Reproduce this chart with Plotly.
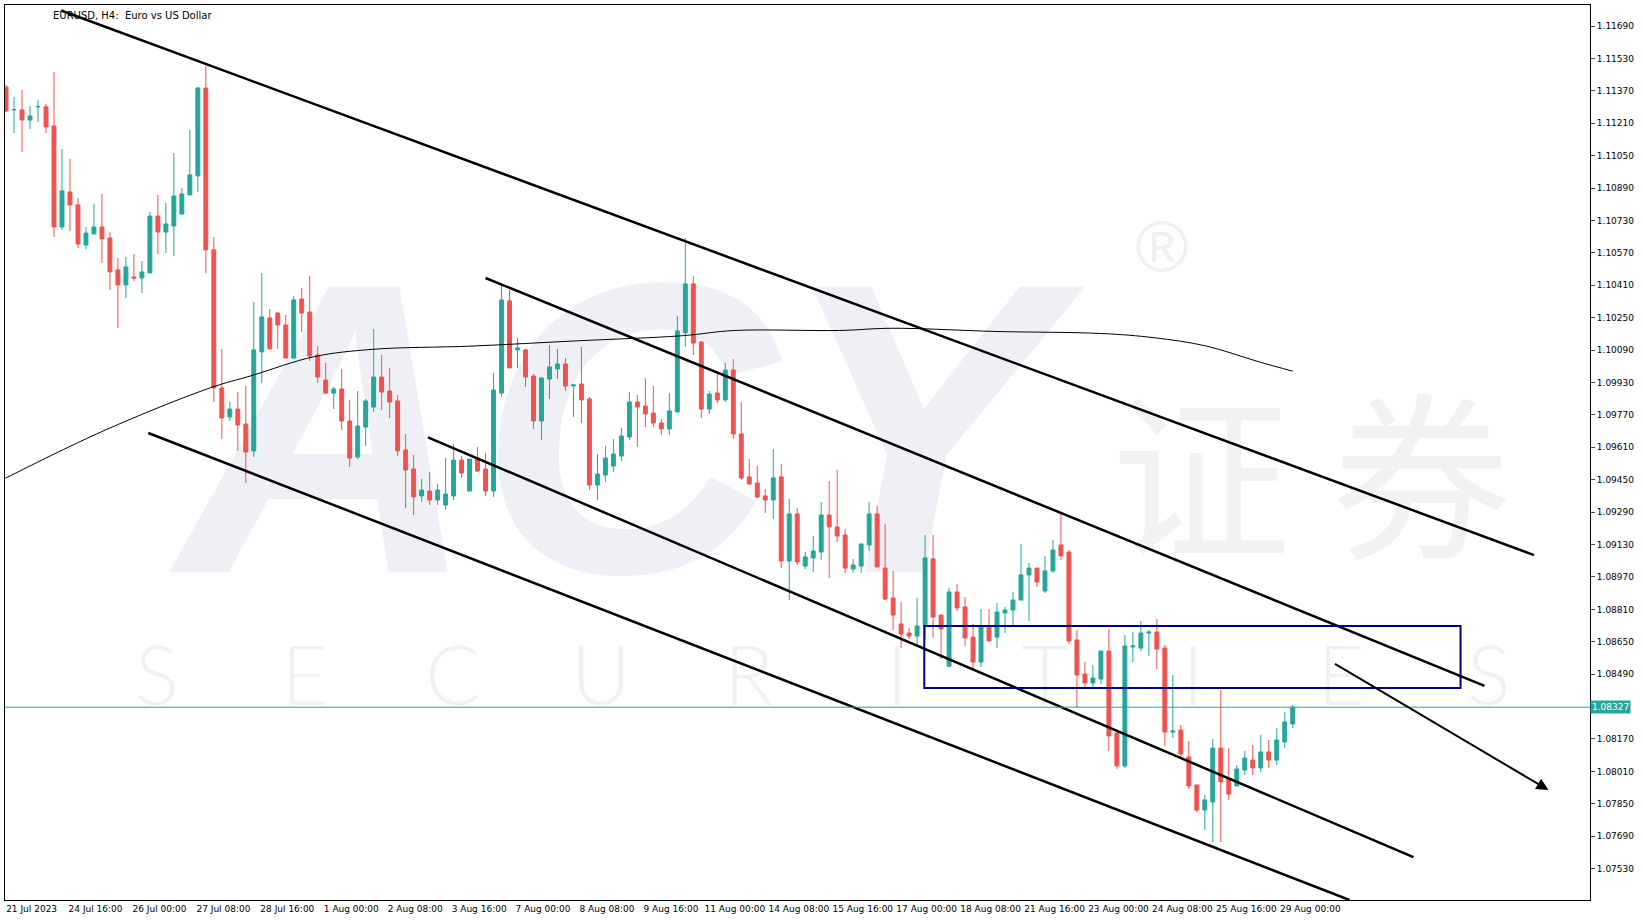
import base64
import numpy as np
import plotly.graph_objects as go

# EURUSD H4 candles, 21 Jul 2023 -> 29 Aug 2023
opens = [1.11389, 1.11276, 1.11276, 1.11226, 1.11291, 1.11291, 1.11197, 1.10698, 1.10871, 1.10807,
         1.10609, 1.10664, 1.10698, 1.10644, 1.10486, 1.10412, 1.10451, 1.10446, 1.10471, 1.10752,
         1.10673, 1.10703, 1.10762, 1.10856, 1.10950, 1.11384, 1.10585, 1.09903, 1.09760, 1.09799,
         1.09725, 1.09592, 1.10081, 1.10249, 1.10273, 1.10214, 1.10051, 1.10342, 1.10278, 1.10066,
         1.09942, 1.09878, 1.09898, 1.09740, 1.09562, 1.09710, 1.09809, 1.09957, 1.09888, 1.09839,
         1.09597, 1.09503, 1.09370, 1.09394, 1.09350, 1.09325, 1.09370, 1.09547, 1.09394, 1.09557,
         1.09503, 1.09394, 1.09878, 1.10333, 1.10091, 1.10091, 1.09962, 1.09740, 1.09947, 1.09997,
         1.10022, 1.09913, 1.09923, 1.09849, 1.09424, 1.09473, 1.09518, 1.09567, 1.09661, 1.09834,
         1.09814, 1.09779, 1.09730, 1.09701, 1.09785, 1.10175, 1.10417, 1.10130, 1.09799, 1.09878,
         1.09844, 1.09992, 1.09676, 1.09464, 1.09434, 1.09370, 1.09350, 1.09464, 1.09049, 1.09281,
         1.09024, 1.09064, 1.09093, 1.09276, 1.09217, 1.09177, 1.09009, 1.09024, 1.09128, 1.09281,
         1.09014, 1.08866, 1.08738, 1.08693, 1.08678, 1.08728, 1.09059, 1.08782, 1.08529, 1.08896,
         1.08822, 1.08673, 1.08550, 1.08723, 1.08673, 1.08792, 1.08807, 1.08856, 1.08980, 1.09014,
         1.08901, 1.09000, 1.09128, 1.09093, 1.08659, 1.08491, 1.08446, 1.08466, 1.08604, 1.08200,
         1.08037, 1.08624, 1.08619, 1.08693, 1.08698, 1.08619, 1.08204, 1.08214, 1.08081, 1.07943,
         1.07819, 1.07859, 1.08125, 1.07972, 1.07938, 1.08017, 1.08066, 1.08027, 1.08106, 1.08066,
         1.08155, 1.08244]
highs = [1.11399, 1.11340, 1.11375, 1.11296, 1.11325, 1.11305, 1.11463, 1.11083, 1.11034, 1.10841,
         1.10698, 1.10812, 1.10861, 1.10673, 1.10545, 1.10550, 1.10565, 1.10530, 1.10772, 1.10856,
         1.10817, 1.11063, 1.10891, 1.11177, 1.11389, 1.11493, 1.10649, 1.10096, 1.09834, 1.09883,
         1.09913, 1.10328, 1.10471, 1.10293, 1.10278, 1.10264, 1.10357, 1.10397, 1.10456, 1.10110,
         1.10027, 1.09908, 1.09997, 1.09844, 1.09888, 1.09849, 1.10194, 1.10066, 1.10002, 1.09868,
         1.09676, 1.09572, 1.09454, 1.09488, 1.09429, 1.09557, 1.09626, 1.09567, 1.09552, 1.09612,
         1.09582, 1.09977, 1.10412, 1.10387, 1.10150, 1.10096, 1.09972, 1.09957, 1.10115, 1.10096,
         1.10051, 1.09923, 1.10106, 1.09859, 1.09577, 1.09617, 1.09651, 1.09706, 1.09883, 1.09868,
         1.09952, 1.09913, 1.09750, 1.09878, 1.10259, 1.10644, 1.10456, 1.10135, 1.09888, 1.09977,
         1.10027, 1.10046, 1.09834, 1.09552, 1.09518, 1.09404, 1.09602, 1.09528, 1.09355, 1.09311,
         1.09093, 1.09172, 1.09340, 1.09444, 1.09498, 1.09207, 1.09059, 1.09133, 1.09340, 1.09320,
         1.09232, 1.08999, 1.08846, 1.08718, 1.08866, 1.09177, 1.09177, 1.08782, 1.08915, 1.08935,
         1.08871, 1.08738, 1.08812, 1.08812, 1.08841, 1.08822, 1.08896, 1.09133, 1.09039, 1.09014,
         1.09074, 1.09153, 1.09291, 1.09103, 1.08708, 1.08550, 1.08535, 1.08604, 1.08713, 1.08200,
         1.08683, 1.08698, 1.08753, 1.08708, 1.08762, 1.08634, 1.08486, 1.08239, 1.08160, 1.07943,
         1.07893, 1.08170, 1.08412, 1.08125, 1.08042, 1.08111, 1.08140, 1.08190, 1.08165, 1.08224,
         1.08303, 1.08338]
lows = [1.11266, 1.11162, 1.11068, 1.11182, 1.11217, 1.11162, 1.10649, 1.10683, 1.10678, 1.10594,
        1.10589, 1.10659, 1.10520, 1.10387, 1.10199, 1.10347, 1.10431, 1.10372, 1.10471, 1.10565,
        1.10570, 1.10555, 1.10757, 1.10856, 1.10871, 1.10471, 1.09834, 1.09651, 1.09740, 1.09592,
        1.09434, 1.09562, 1.09928, 1.10096, 1.10096, 1.10051, 1.10046, 1.10180, 1.10036, 1.09928,
        1.09873, 1.09799, 1.09696, 1.09513, 1.09552, 1.09617, 1.09785, 1.09794, 1.09755, 1.09567,
        1.09310, 1.09276, 1.09340, 1.09325, 1.09325, 1.09301, 1.09350, 1.09459, 1.09394, 1.09488,
        1.09370, 1.09365, 1.09859, 1.10002, 1.10002, 1.09908, 1.09701, 1.09646, 1.09849, 1.09947,
        1.09888, 1.09760, 1.09730, 1.09399, 1.09350, 1.09439, 1.09488, 1.09543, 1.09646, 1.09612,
        1.09710, 1.09710, 1.09671, 1.09671, 1.09780, 1.10106, 1.10066, 1.09755, 1.09775, 1.09829,
        1.09834, 1.09651, 1.09449, 1.09424, 1.09360, 1.09286, 1.09256, 1.09014, 1.08856, 1.09029,
        1.09009, 1.08994, 1.09054, 1.08965, 1.09143, 1.08990, 1.08990, 1.08990, 1.09098, 1.09019,
        1.08856, 1.08708, 1.08619, 1.08664, 1.08624, 1.08664, 1.08669, 1.08565, 1.08529, 1.08802,
        1.08629, 1.08511, 1.08525, 1.08654, 1.08619, 1.08693, 1.08723, 1.08856, 1.08753, 1.08920,
        1.08891, 1.08990, 1.09054, 1.08639, 1.08323, 1.08427, 1.08427, 1.08441, 1.08111, 1.08022,
        1.08027, 1.08550, 1.08604, 1.08579, 1.08515, 1.08135, 1.08175, 1.08081, 1.07923, 1.07809,
        1.07721, 1.07661, 1.07661, 1.07869, 1.07938, 1.07992, 1.07992, 1.08007, 1.08027, 1.08042,
        1.08125, 1.08224]
closes = [1.11271, 1.11278, 1.11226, 1.11246, 1.11293, 1.11192, 1.10698, 1.10876, 1.10807, 1.10614,
          1.10668, 1.10698, 1.10639, 1.10476, 1.10412, 1.10501, 1.10446, 1.10476, 1.10752, 1.10673,
          1.10713, 1.10851, 1.10861, 1.10955, 1.11384, 1.10585, 1.09903, 1.09755, 1.09799, 1.09720,
          1.09587, 1.10091, 1.10254, 1.10096, 1.10214, 1.10051, 1.10338, 1.10273, 1.10061, 1.09957,
          1.09878, 1.09898, 1.09740, 1.09557, 1.09715, 1.09839, 1.09957, 1.09883, 1.09834, 1.09592,
          1.09498, 1.09365, 1.09399, 1.09350, 1.09399, 1.09379, 1.09547, 1.09483, 1.09552, 1.09493,
          1.09394, 1.09893, 1.10338, 1.10002, 1.10101, 1.09957, 1.09740, 1.09952, 1.10007, 1.10022,
          1.09913, 1.09918, 1.09844, 1.09424, 1.09478, 1.09557, 1.09577, 1.09666, 1.09834, 1.09809,
          1.09775, 1.09730, 1.09701, 1.09790, 1.10185, 1.10417, 1.10125, 1.09799, 1.09873, 1.09844,
          1.09992, 1.09676, 1.09459, 1.09429, 1.09365, 1.09350, 1.09459, 1.09049, 1.09281, 1.09044,
          1.09069, 1.09098, 1.09276, 1.09217, 1.09172, 1.09014, 1.09029, 1.09133, 1.09281, 1.09019,
          1.08861, 1.08782, 1.08688, 1.08678, 1.08728, 1.09064, 1.08772, 1.08713, 1.08896, 1.08817,
          1.08669, 1.08550, 1.08723, 1.08654, 1.08797, 1.08807, 1.08856, 1.08980, 1.09014, 1.08945,
          1.09000, 1.09103, 1.09074, 1.08654, 1.08486, 1.08446, 1.08471, 1.08604, 1.08185, 1.08037,
          1.08629, 1.08629, 1.08693, 1.08698, 1.08614, 1.08204, 1.08210, 1.08096, 1.07938, 1.07819,
          1.07869, 1.08125, 1.07958, 1.07898, 1.08022, 1.08076, 1.08027, 1.08106, 1.08066, 1.08165,
          1.08254, 1.08327]

date_labels = ["21 Jul 2023", "24 Jul 16:00", "26 Jul 00:00", "27 Jul 08:00", "28 Jul 16:00",
               "1 Aug 00:00", "2 Aug 08:00", "3 Aug 16:00", "7 Aug 00:00", "8 Aug 08:00",
               "9 Aug 16:00", "11 Aug 00:00", "14 Aug 08:00", "15 Aug 16:00", "17 Aug 00:00",
               "18 Aug 08:00", "21 Aug 16:00", "23 Aug 00:00", "24 Aug 08:00", "25 Aug 16:00",
               "29 Aug 00:00"]
price_ticks = [1.07530, 1.07690, 1.07850, 1.08010, 1.08170, 1.08490, 1.08650, 1.08810,
               1.08970, 1.09130, 1.09290, 1.09450, 1.09610, 1.09770, 1.09930, 1.10090, 1.10250,
               1.10410, 1.10570, 1.10730, 1.10890, 1.11050, 1.11210, 1.11370, 1.11530, 1.11690]
last_price = 1.08327

# moving average (bar index, price)
ma_x = [-0.1, 12.4, 25.5, 30.8, 38.6, 45.9, 58.3, 71.5, 84.6, 91.2, 104.3, 110.9, 124.0,
        137.1, 143.7, 150.2, 156.8, 161.0]
ma_y = [1.09457, 1.09695, 1.09903, 1.09965, 1.10058, 1.10094, 1.10110, 1.10136, 1.10161,
        1.10187, 1.10187, 1.10198, 1.10182, 1.10172, 1.10151, 1.10110, 1.10032, 1.09986]

# drawn trend lines: (x0, y0, x1, y1) in bar index / price
trend_lines = [
    (6.9, 1.11767, 191.2, 1.09078),
    (60.0, 1.10446, 185.0, 1.08432),
    (52.8, 1.09659, 176.1, 1.07587),
    (17.8, 1.09681, 168.1, 1.07375),
]
arrow_line = (166.1, 1.08545, 193.0, 1.07918)
zone = (114.9, 1.08728, 182.0, 1.08422)

UP = "#26a69a"
DOWN = "#ef5350"

# faint watermark as an svg image placed below the data
PW, PH = 1585, 895
letters = "".join(
    f'<text x="{152 + k * 148}" y="700" font-size="82" font-family="Lato" '
    f'font-weight="300" fill="#f0f1f4" text-anchor="middle">{ch}</text>'
    for k, ch in enumerate("SECURITIES")
)
svg = (
    f'<svg xmlns="http://www.w3.org/2000/svg" width="{PW}" height="{PH}" viewBox="0 0 {PW} {PH}">'
    '<text x="611" y="567" font-size="415" font-family="Liberation Sans" font-weight="bold" '
    'font-style="italic" fill="#eef0f5" text-anchor="middle">ACY</text>'
    '<text x="1306" y="540" font-size="180" font-family="Noto Sans CJK SC" '
    'fill="#f1f2f4" text-anchor="middle">证 券</text>'
    '<text x="1157" y="266" font-size="72" font-family="Liberation Sans" '
    'fill="#eef0f3" text-anchor="middle">®</text>'
    + letters + '</svg>'
)
wm_src = "data:image/svg+xml;base64," + base64.b64encode(svg.encode("utf-8")).decode()

idx = np.arange(len(closes))
fig = go.Figure()

fig.add_trace(go.Scatter(x=ma_x, y=ma_y, mode="lines", line=dict(color="black", width=1),
                         line_shape="spline", hoverinfo="skip", showlegend=False))

fig.add_trace(go.Candlestick(
    x=idx, open=opens, high=highs, low=lows, close=closes,
    increasing=dict(line=dict(color=UP, width=1), fillcolor=UP),
    decreasing=dict(line=dict(color=DOWN, width=1), fillcolor=DOWN),
    whiskerwidth=0, showlegend=False,
))

for x0, y0, x1, y1 in trend_lines:
    fig.add_shape(type="line", x0=x0, y0=y0, x1=x1, y1=y1,
                  line=dict(color="black", width=2.5))

fig.add_shape(type="rect", x0=zone[0], y0=zone[1], x1=zone[2], y1=zone[3],
              line=dict(color="#000080", width=2))
fig.add_shape(type="line", xref="paper", x0=0, x1=1, y0=last_price, y1=last_price,
              line=dict(color=UP, width=1))
fig.add_annotation(x=arrow_line[2], y=arrow_line[3], ax=arrow_line[0], ay=arrow_line[1],
                   xref="x", yref="y", axref="x", ayref="y", showarrow=True,
                   arrowhead=2, arrowsize=1.2, arrowwidth=2, arrowcolor="black", text="")

fig.add_annotation(xref="paper", yref="y", x=1.0, y=last_price, xanchor="left",
                   text=f"{last_price:.5f}", showarrow=False, bgcolor=UP,
                   font=dict(color="white", size=9, family="DejaVu Sans"), borderpad=1)
fig.add_annotation(xref="paper", yref="paper", x=0.029, y=0.997, xanchor="left", yanchor="top",
                   text="EURUSD, H4:  Euro vs US Dollar", showarrow=False,
                   font=dict(color="black", size=10, family="DejaVu Sans"))

fig.update_layout(
    width=1644, height=923,
    margin=dict(l=5, r=54, t=5, b=23),
    paper_bgcolor="white", plot_bgcolor="white",
    font=dict(family="DejaVu Sans", size=9, color="black"),
    images=[dict(source=wm_src, xref="paper", yref="paper", x=0, y=1, sizex=1, sizey=1,
                 xanchor="left", yanchor="top", sizing="stretch", layer="below")],
    xaxis=dict(range=[-0.13, 198.2], showgrid=False, zeroline=False,
               rangeslider=dict(visible=False),
               tickvals=[8 * k + 3.2 for k in range(len(date_labels))], ticktext=date_labels,
               ticks="", mirror=True, showline=True, linecolor="black", linewidth=1),
    yaxis=dict(range=[1.07375, 1.11794], side="right", showgrid=False, zeroline=False,
               tickvals=price_ticks, ticktext=[f"{v:.5f}" for v in price_ticks],
               ticks="outside", ticklen=4,
               mirror=True, showline=True, linecolor="black", linewidth=1),
)

fig.write_html("out.html", config={"displayModeBar": False},
               post_script="document.body.style.margin='0';")
